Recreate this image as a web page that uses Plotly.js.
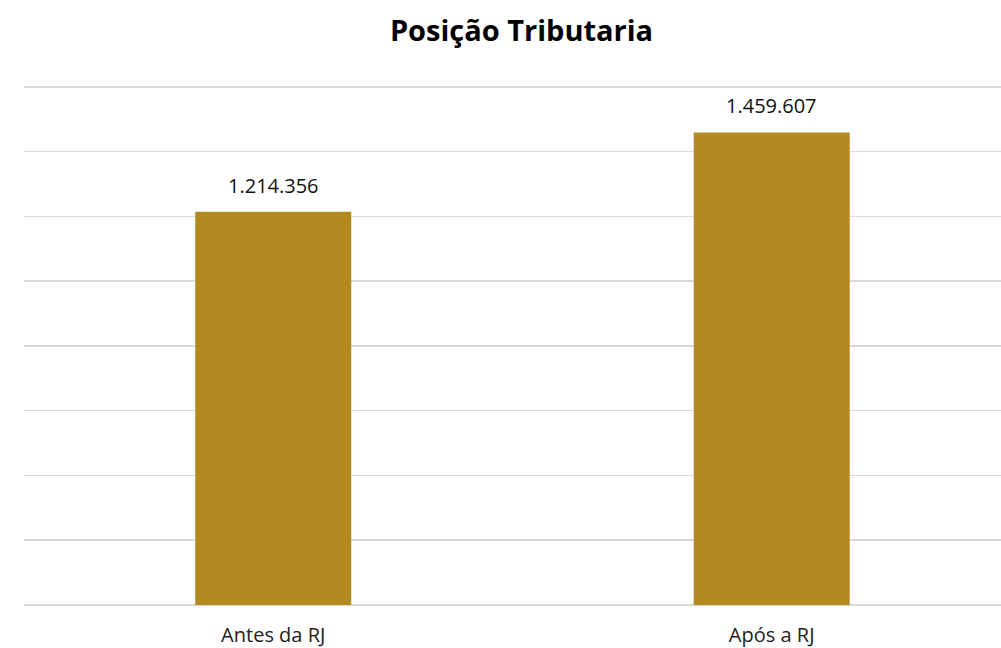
<!DOCTYPE html>
<html>
<head>
<meta charset="utf-8">
<script src="https://cdn.plot.ly/plotly-3.0.1.min.js"></script>
<style>
  html, body { margin: 0; padding: 0; background: #fff; }
  #chart { width: 1001px; height: 648px; }
</style>
</head>
<body>
<div id="chart"></div>
<script>
// ---- chart data ----
const categories = ['Antes da RJ', 'Após a RJ'];
const values = [1214356, 1459607];
const yTicks = [0, 200000, 400000, 600000, 800000, 1000000, 1200000, 1400000, 1600000];

const barTrace = {
    x: categories,
    y: values,
    type: 'bar',
    marker: { color: '#B38A22' },
    width: 0.313,
    hoverinfo: 'skip'
};

// value labels above each bar (pt-BR thousands separator)
const fmt = v => v.toString().replace(/\B(?=(\d{3})+(?!\d))/g, '.');
const annotations = categories.map((c, i) => ({
    x: c,
    y: values[i],
    text: fmt(values[i]),
    showarrow: false,
    yanchor: 'bottom',
    yshift: 11,
    font: { family: 'Open Sans, sans-serif', size: 20, color: '#111' }
}));

const layout = {
    width: 1001,
    height: 648,
    title: {
        text: '<b>Posição Tributaria</b>',
        font: { family: 'Open Sans, sans-serif', size: 29, color: '#000' },
        xref: 'container',
        x: 0.521,
        xanchor: 'center',
        y: 0.952,
        yanchor: 'middle'
    },
    xaxis: {
        type: 'category',
        range: [-0.5, 1.46],
        showgrid: false,
        zeroline: false,
        showline: false,
        ticks: 'outside',
        ticklen: 12,
        tickcolor: 'rgba(0,0,0,0)',
        tickfont: { family: 'Open Sans, sans-serif', size: 20, color: '#222' }
    },
    yaxis: {
        range: [0, 1606000],
        tickvals: yTicks,
        showticklabels: false,
        showgrid: true,
        gridcolor: '#d9d9d9',
        gridwidth: 1.5,
        zeroline: true,
        zerolinecolor: '#d9d9d9',
        zerolinewidth: 1.5,
        showline: false
    },
    annotations: annotations,
    margin: { l: 24, r: 0, t: 85, b: 43 },
    showlegend: false,
    plot_bgcolor: '#fff',
    paper_bgcolor: '#fff'
};

Plotly.newPlot('chart', [barTrace], layout, { displayModeBar: false, staticPlot: true });
</script>
</body>
</html>
